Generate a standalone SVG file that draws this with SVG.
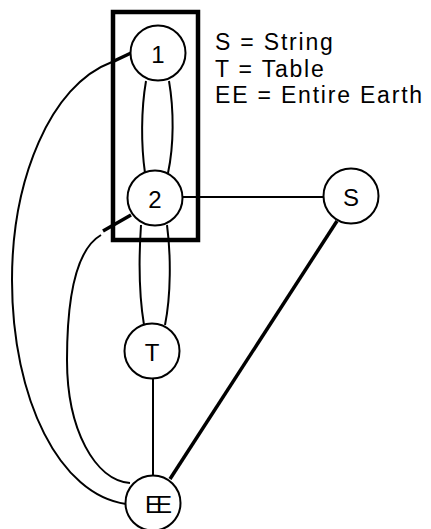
<svg xmlns="http://www.w3.org/2000/svg" width="431" height="529" viewBox="0 0 431 529">
  <style>
    .edge { fill: none; stroke: #000; stroke-width: 2; }
    .edge-heavy { fill: none; stroke: #000; stroke-width: 3.5; }
    .node circle { fill: #fff; stroke: #000; stroke-width: 2; }
    .node text { font-family: "Liberation Sans", Arial, sans-serif; font-size: 24px; text-anchor: middle; dominant-baseline: central; fill: #000; }
    .legend text { font-family: "Liberation Sans", Arial, sans-serif; font-size: 23px; letter-spacing: 1.8px; fill: #000; }
    .frame { fill: none; stroke: #000; stroke-width: 4.5; }
  </style>

  <rect width="431" height="529" fill="#fff"/>

  <!-- connectors -->
  <g id="connectors">
    <!-- 1 = 2, double edge -->
    <path class="edge" d="M146,81 C141,110 141,145 145,173"/>
    <path class="edge" d="M169,81 C174,110 174,145 168,173"/>
    <!-- 2 = T, double edge -->
    <path class="edge" d="M141,225 C139,255 139,295 144,325"/>
    <path class="edge" d="M167,225 C171,255 171,295 165,325"/>
    <!-- 2 - S -->
    <path class="edge" d="M183,197 L324,197"/>
    <!-- T - EE -->
    <path class="edge" d="M153,378 L153,476"/>
    <!-- S - EE -->
    <path class="edge-heavy" d="M337,221 L170,479"/>
    <!-- 1 - EE, leaves the frame on the left -->
    <path class="edge-heavy" d="M131,53 L112,62" stroke-width="3"/>
    <path class="edge" d="M112,62 C50,85 12,180 12,280 C12,400 60,495 126,504"/>
    <!-- 2 - EE, leaves the frame on the lower left -->
    <path class="edge-heavy" d="M131,215 L103,231" stroke-width="3"/>
    <path class="edge" d="M101,235 C75,250 67,300 67,360 C67,430 95,480 130,483"/>
  </g>

  <!-- frame around nodes 1 and 2 -->
  <g id="group-1-2">
    <rect class="frame" x="113" y="12" width="85" height="228"/>
  </g>

  <!-- nodes -->
  <g id="node-1" class="node">
    <circle cx="158" cy="53" r="27.5"/>
    <text x="158" y="54">1</text>
  </g>
  <g id="node-2" class="node">
    <circle cx="155" cy="198" r="27.5"/>
    <text x="155" y="199">2</text>
  </g>
  <g id="node-S" class="node">
    <circle cx="351" cy="196" r="27.5"/>
    <text x="351" y="197">S</text>
  </g>
  <g id="node-T" class="node">
    <circle cx="152" cy="351" r="27.5"/>
    <text x="152" y="352">T</text>
  </g>
  <g id="node-EE" class="node">
    <circle cx="153" cy="503" r="27.5"/>
    <text x="156" y="504" letter-spacing="-5">EE</text>
  </g>

  <!-- legend -->
  <g id="legend" class="legend">
    <text x="215" y="50">S = String</text>
    <text x="215" y="77">T = Table</text>
    <text x="215" y="103">EE = Entire Earth</text>
  </g>
</svg>
